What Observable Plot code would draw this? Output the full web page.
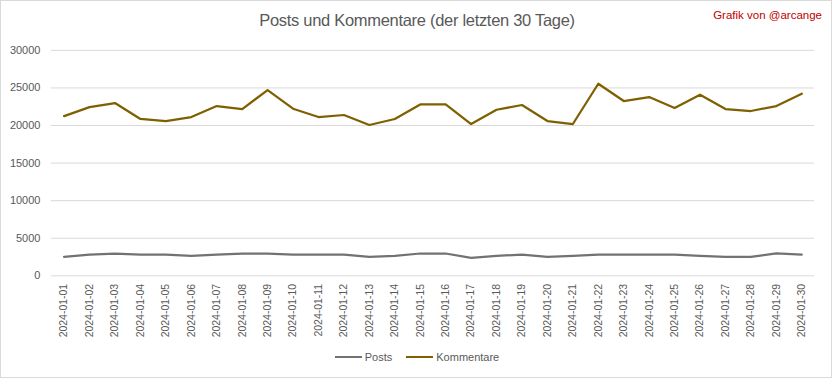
<!DOCTYPE html>
<html>
<head>
<meta charset="utf-8">
<script src="https://cdn.jsdelivr.net/npm/d3@7"></script>
<script src="https://cdn.jsdelivr.net/npm/@observablehq/plot@0.6"></script>
<style>
  body { margin: 0; background: #fff; }
  #chart { position: relative; width: 832px; height: 378px; box-sizing: border-box; border: 1px solid #d9d9d9; overflow: hidden; font-family: "Liberation Sans", sans-serif; }
  #chart svg { position: absolute; left: -1px; top: -1px; }
  #title { position: absolute; left: 0; width: 832px; top: 10px; text-align: center; font-size: 16.5px; color: #595959; letter-spacing: -0.3px; }
  #credit { position: absolute; right: 9px; top: 8px; font-size: 11.5px; color: #c00000; }
  #legend { position: absolute; left: 0; width: 832px; top: 350px; display: flex; justify-content: center; gap: 14px; font-size: 11px; color: #595959; }
  .item { display: flex; align-items: center; gap: 3px; }
  .sw { width: 27px; height: 2.5px; display: inline-block; }
</style>
</head>
<body>
<div id="chart">
  <div id="title">Posts und Kommentare (der letzten 30 Tage)</div>
  <div id="credit">Grafik von @arcange</div>
  <div id="legend"></div>
</div>
<script>
const dates = ["2024-01-01","2024-01-02","2024-01-03","2024-01-04","2024-01-05","2024-01-06","2024-01-07","2024-01-08","2024-01-09","2024-01-10",
  "2024-01-11","2024-01-12","2024-01-13","2024-01-14","2024-01-15","2024-01-16","2024-01-17","2024-01-18","2024-01-19","2024-01-20",
  "2024-01-21","2024-01-22","2024-01-23","2024-01-24","2024-01-25","2024-01-26","2024-01-27","2024-01-28","2024-01-29","2024-01-30"];
const posts = [2520, 2830, 2970, 2830, 2830, 2660, 2830, 2970, 2970, 2830,
  2830, 2830, 2520, 2660, 2970, 2970, 2390, 2660, 2830, 2520,
  2660, 2830, 2830, 2830, 2830, 2660, 2520, 2520, 3000, 2830];
const kommentare = [21250, 22450, 22990, 20870, 20600, 21130, 22590, 22190, 24720, 22240,
  21130, 21400, 20070, 20870, 22800, 22800, 20200, 22100, 22730, 20600,
  20200, 25560, 23260, 23790, 22330, 24100, 22190, 21930, 22590, 24230];
const yTicks = [0, 5000, 10000, 15000, 20000, 25000, 30000];
const seriesNames = ["Posts", "Kommentare"];
const seriesColors = ["#767171", "#7f6000"];

const rows = [];
dates.forEach((d, i) => {
  rows.push({date: d, value: posts[i], series: seriesNames[0]});
  rows.push({date: d, value: kommentare[i], series: seriesNames[1]});
});

const plot = Plot.plot({
  width: 832,
  height: 378,
  marginTop: 50,
  marginBottom: 102,
  marginLeft: 51,
  marginRight: 16,
  style: {fontFamily: "Liberation Sans, sans-serif", fontSize: "10.5px", color: "#595959", background: "transparent"},
  x: {type: "point", domain: dates, padding: 0.5, round: false, label: null},
  y: {domain: [0, 30000], label: null},
  color: {domain: seriesNames, range: seriesColors},
  marks: [
    Plot.ruleY(yTicks, {stroke: "#d9d9d9", strokeWidth: 1}),
    Plot.axisY(yTicks, {tickSize: 0, tickPadding: 11, tickFormat: d => String(d), fontSize: "11px", label: null}),
    Plot.axisX({tickSize: 0, tickPadding: 8, tickRotate: -90, label: null}),
    Plot.line(rows, {x: "date", y: "value", z: "series", stroke: "series", strokeWidth: 2.25, strokeLinejoin: "round"})
  ]
});
document.getElementById("chart").appendChild(plot);

const legend = document.getElementById("legend");
seriesNames.forEach((n, i) => {
  const it = document.createElement("div");
  it.className = "item";
  const sw = document.createElement("span");
  sw.className = "sw";
  sw.style.background = seriesColors[i];
  const t = document.createElement("span");
  t.textContent = n;
  it.appendChild(sw); it.appendChild(t);
  legend.appendChild(it);
});
</script>
</body>
</html>
